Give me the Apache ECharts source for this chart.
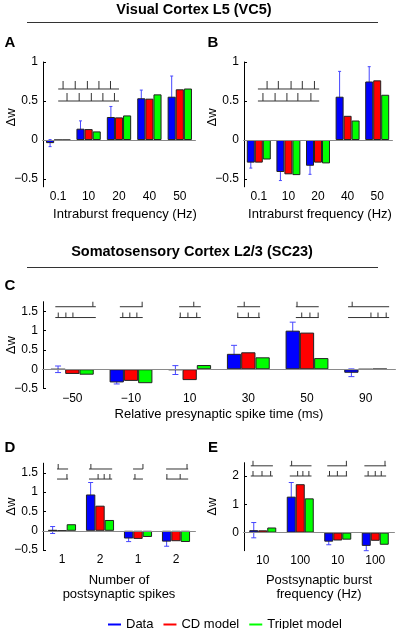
<!DOCTYPE html>
<html>
<head>
<meta charset="utf-8">
<script src="https://cdn.jsdelivr.net/npm/echarts@6/dist/echarts.min.js"></script>
<style>
  html, body { margin: 0; padding: 0; background: #fff; }
  #chart { width: 397px; height: 629px; }
</style>
</head>
<body>
<div id="chart"></div>
<script>
// categories (tick labels)
var catsA = ['0.1', '10', '20', '40', '50'];
var catsC = ['-50', '-10', '10', '30', '50', '90'];
var catsD = ['1', '2', '1', '2'];
var catsE = ['10', '100', '10', '100'];

// A: visual cortex, pre-post pairing
var dataA = [-0.04, 0.145, 0.295, 0.535, 0.555];
var cdA   = [0, 0.14, 0.29, 0.53, 0.65];
var tripA = [0, 0.11, 0.315, 0.585, 0.66];
var errA  = [0.045, 0.1, 0.135, 0.105, 0.265];

// B: visual cortex, post-pre pairing
var dataB = [-0.29, -0.41, -0.33, 0.555, 0.75];
var cdB   = [-0.29, -0.44, -0.29, 0.31, 0.765];
var tripB = [-0.25, -0.45, -0.30, 0.25, 0.58];
var errB  = [0.07, 0.11, 0.11, 0.325, 0.19];

// C: somatosensory, relative spike time
var dataC = [0, -0.34, -0.02, 0.40, 1.0, -0.09];
var cdC   = [-0.12, -0.30, -0.28, 0.44, 0.95, 0];
var tripC = [-0.14, -0.36, 0.11, 0.31, 0.29, 0.01];
var errC  = [0.085, 0.04, 0.115, 0.22, 0.22, 0.10];

// D: number of postsynaptic spikes
var dataD = [0.02, 0.94, -0.20, -0.28];
var cdD   = [0, 0.65, -0.21, -0.27];
var tripD = [0.17, 0.28, -0.16, -0.29];
var errD  = [0.09, 0.31, 0.08, 0.12];

// E: postsynaptic burst frequency
var dataE = [0.085, 1.27, -0.32, -0.47];
var cdE   = [0.08, 1.71, -0.28, -0.29];
var tripE = [0.18, 1.21, -0.25, -0.43];
var errE  = [0.27, 0.5, 0.11, 0.17];

// spike-train insets: [category, y, lineFrom, lineTo, [spike offsets]] (offsets in category widths)
var insetA = [
  [0, 0.654, 0, 2.0, [0.16, 0.56, 0.96, 1.34, 1.72]],
  [0, 0.5, 0, 2.0, [0.29, 0.69, 1.09, 1.47, 1.85]]
];
var insetB = [
  [0, 0.654, -0.03, 2.04, [0.28, 0.66, 1.09, 1.47, 1.88]],
  [0, 0.5, -0.03, 2.04, [0.14, 0.55, 0.95, 1.32, 1.76]]
];
var insetC = [
  [0, 1.62, -0.29, 0.40, [0.35]], [0, 1.34, -0.29, 0.40, [-0.24, -0.11, 0.01]],
  [1, 1.62, -0.19, 0.20, [0.19]], [1, 1.34, -0.19, 0.20, [-0.14, -0.02, 0.10]],
  [2, 1.62, -0.18, 0.19, [0.07]], [2, 1.34, -0.18, 0.19, [-0.16, -0.03, 0.12]],
  [3, 1.62, -0.19, 0.20, [-0.07]], [3, 1.34, -0.19, 0.20, [-0.18, 0.0, 0.18]],
  [4, 1.62, -0.19, 0.20, [-0.17]], [4, 1.34, -0.19, 0.20, [-0.09, 0.05, 0.19]],
  [5, 1.62, -0.30, 0.40, [-0.23]], [5, 1.34, -0.30, 0.40, [0.09, 0.21, 0.35]]
];
var insetD = [
  [0, 1.60, -0.13, 0.16, [-0.10]], [0, 1.34, -0.13, 0.16, [0.13]],
  [1, 1.60, -0.29, 0.32, [-0.24]], [1, 1.34, -0.29, 0.32, [-0.05, 0.11, 0.26]],
  [2, 1.60, -0.13, 0.13, [0.13]], [2, 1.34, -0.13, 0.13, [-0.08]],
  [3, 1.60, -0.26, 0.32, [0.29]], [3, 1.34, -0.26, 0.32, [-0.24, 0.11]]
];
var insetE = [
  [0, 2.36, -0.32, 0.27, [-0.26]], [0, 2.0, -0.32, 0.27, [-0.26, -0.02, 0.21]],
  [1, 2.36, -0.28, 0.30, [-0.23]], [1, 2.0, -0.28, 0.30, [-0.07, 0.07, 0.23]],
  [2, 2.36, -0.28, 0.25, [0.23]], [2, 2.0, -0.28, 0.25, [-0.22, -0.01, 0.23]],
  [3, 2.36, -0.29, 0.29, [0.26]], [3, 2.0, -0.29, 0.29, [-0.19, 0, 0.16]]
];

var FONT = 'Liberation Sans, Arial, Helvetica, sans-serif';
var minus = function (v) { return String(v).replace('-', '\u2212'); };

function errRender(gap, cap) {
  return function (params, api) {
    var band = api.size([1, 0])[0];
    var bw = band * (1 - gap) / 3;
    var i = api.value(0), v = api.value(1), e = api.value(2);
    var x = api.coord([i, v])[0] - bw;
    var yTop = api.coord([i, v + e])[1];
    var yBot = api.coord([i, v - e])[1];
    var s = { stroke: '#4646ff', lineWidth: 1 };
    return { type: 'group', children: [
      { type: 'line', shape: { x1: x, y1: yTop, x2: x, y2: yBot }, style: s },
      { type: 'line', shape: { x1: x - cap, y1: yTop, x2: x + cap, y2: yTop }, style: s },
      { type: 'line', shape: { x1: x - cap, y1: yBot, x2: x + cap, y2: yBot }, style: s }
    ] };
  };
}

function insetRender(trains, tickH) {
  return function (params, api) {
    var t = trains[params.dataIndex];
    var band = api.size([1, 0])[0];
    var c = api.coord([t[0], t[1]]);
    var s = { stroke: '#333', lineWidth: 1 };
    var ch = [{ type: 'line', shape: { x1: c[0] + t[2] * band, y1: c[1], x2: c[0] + t[3] * band, y2: c[1] }, style: s }];
    t[4].forEach(function (k) {
      var x = c[0] + k * band;
      ch.push({ type: 'line', shape: { x1: x, y1: c[1], x2: x, y2: c[1] - tickH }, style: s });
    });
    return { type: 'group', children: ch };
  };
}

var grids = [], xAxes = [], yAxes = [], series = [];

function addPanel(p) {
  var idx = grids.length;
  grids.push({ left: p.left, top: p.top, width: p.width, height: p.height, outerBoundsMode: 'none' });
  xAxes.push({
    type: 'category', gridIndex: idx, data: p.cats,
    axisLine: { lineStyle: { color: '#000' } },
    axisTick: { inside: true, alignWithLabel: true, length: 3, lineStyle: { color: '#000' } },
    axisLabel: { fontFamily: FONT, fontSize: 12, color: '#000', margin: 4, formatter: minus },
    name: p.xname, nameLocation: 'middle', nameGap: p.nameGap, nameMoveOverlap: false,
    nameTextStyle: { fontFamily: FONT, fontSize: 13, color: '#000', lineHeight: 14, padding: p.xpad || 0 }
  });
  yAxes.push({
    type: 'value', gridIndex: idx, min: p.min, max: p.max,
    splitLine: { show: false },
    axisLine: { show: true, lineStyle: { color: '#000' } },
    axisTick: { show: true, inside: true, length: 3, customValues: p.ticks, lineStyle: { color: '#000' } },
    axisLabel: { fontFamily: FONT, fontSize: 12, color: '#000', margin: 5, customValues: p.ticks, formatter: minus },
    name: '\u0394w', nameLocation: 'middle', nameGap: 25, nameMoveOverlap: false,
    nameTextStyle: { fontFamily: FONT, fontSize: 13, color: '#000', padding: p.ypad || 0 }
  });
  var gapPct = Math.round(p.gap * 100) + '%';
  var names = ['Data', 'CD model', 'Triplet model'];
  var cols = ['#0000ff', '#ff0000', '#00ff00'];
  [p.data, p.cd, p.trip].forEach(function (vals, k) {
    series.push({
      type: 'bar', name: names[k], xAxisIndex: idx, yAxisIndex: idx, data: vals,
      barGap: 0, barCategoryGap: gapPct, z: 2,
      itemStyle: { color: cols[k], borderColor: '#222', borderWidth: 1 }
    });
  });
  series.push({
    type: 'custom', name: 'err', xAxisIndex: idx, yAxisIndex: idx, z: 1,
    renderItem: errRender(p.gap, p.cap),
    data: p.data.map(function (v, i) { return [i, v, p.err[i]]; })
  });
  series.push({
    type: 'custom', name: 'inset', xAxisIndex: idx, yAxisIndex: idx, z: 3, clip: false,
    renderItem: insetRender(p.inset, p.tickH),
    data: p.inset.map(function (t) { return [t[0], t[1]]; }),
    markLine: { silent: true, symbol: 'none', label: { show: false },
      lineStyle: { color: '#8a8a8a', type: 'solid', width: 1 }, data: [{ yAxis: 0 }] }
  });
}

addPanel({ left: 43, top: 62, width: 152, height: 124.8, cats: catsA, min: -0.6, max: 1, ticks: [-0.5, 0, 0.5, 1],
  data: dataA, cd: cdA, trip: tripA, err: errA, gap: 0.2, cap: 1.5, inset: insetA, tickH: 8,
  xname: 'Intraburst frequency (Hz)', nameGap: 21, xpad: [0, 0, 0, 12], ypad: [0, 0, 0, 14] });
addPanel({ left: 244, top: 62, width: 148, height: 124.8, cats: catsA, min: -0.6, max: 1, ticks: [-0.5, 0, 0.5, 1],
  data: dataB, cd: cdB, trip: tripB, err: errB, gap: 0.19, cap: 1.5, inset: insetB, tickH: 8,
  xname: 'Intraburst frequency (Hz)', nameGap: 21, xpad: [0, 0, 0, 4], ypad: [0, 0, 0, 14] });
addPanel({ left: 43, top: 301.7, width: 352, height: 86.9, cats: catsC, min: -0.5, max: 1.75, ticks: [-0.5, 0, 0.5, 1, 1.5],
  data: dataC, cd: cdC, trip: tripC, err: errC, gap: 0.27, cap: 3, inset: insetC, tickH: 5,
  xname: 'Relative presynaptic spike time (ms)', nameGap: 19 });
addPanel({ left: 43, top: 463.2, width: 152, height: 86.9, cats: catsD, min: -0.5, max: 1.75, ticks: [-0.5, 0, 0.5, 1, 1.5],
  data: dataD, cd: cdD, trip: tripD, err: errD, gap: 0.26, cap: 2.5, inset: insetD, tickH: 5,
  xname: 'Number of\npostsynaptic spikes', nameGap: 23 });
addPanel({ left: 244, top: 462.7, width: 150, height: 88, cats: catsE, min: -0.64, max: 2.47, ticks: [0, 1, 2],
  data: dataE, cd: cdE, trip: tripE, err: errE, gap: 0.28, cap: 2.5, inset: insetE, tickH: 5,
  xname: 'Postsynaptic burst\nfrequency (Hz)', nameGap: 23 });

function txt(s, x, y, size, bold) {
  return { type: 'text', x: x, y: y, silent: true,
    style: { text: s, fill: '#000', align: 'center', verticalAlign: 'middle',
      font: (bold ? 'bold ' : '') + size + 'px ' + FONT } };
}
function hline(x1, x2, y) {
  return { type: 'line', silent: true, shape: { x1: x1, y1: y, x2: x2, y2: y }, style: { stroke: '#333', lineWidth: 1 } };
}

var chart = echarts.init(document.getElementById('chart'), null, { renderer: 'canvas' });
chart.setOption({
  animation: false,
  backgroundColor: '#fff',
  grid: grids,
  xAxis: xAxes,
  yAxis: yAxes,
  legend: {
    data: ['Data', 'CD model', 'Triplet model'],
    left: 103, top: 613, icon: 'rect', itemWidth: 13, itemHeight: 2, itemGap: 10,
    itemStyle: { borderWidth: 0 },
    textStyle: { fontFamily: FONT, fontSize: 13, color: '#000' }
  },
  graphic: [
    txt('Visual Cortex L5 (VC5)', 194, 9.5, 14.5, true),
    hline(27, 378, 22.5),
    txt('Somatosensory Cortex L2/3 (SC23)', 192, 252, 14.5, true),
    hline(27, 378, 267.5),
    txt('A', 10, 43, 15, true),
    txt('B', 213, 43, 15, true),
    txt('C', 10, 286, 15, true),
    txt('D', 10, 448, 15, true),
    txt('E', 213, 448, 15, true)
  ],
  series: series
});
</script>
</body>
</html>
